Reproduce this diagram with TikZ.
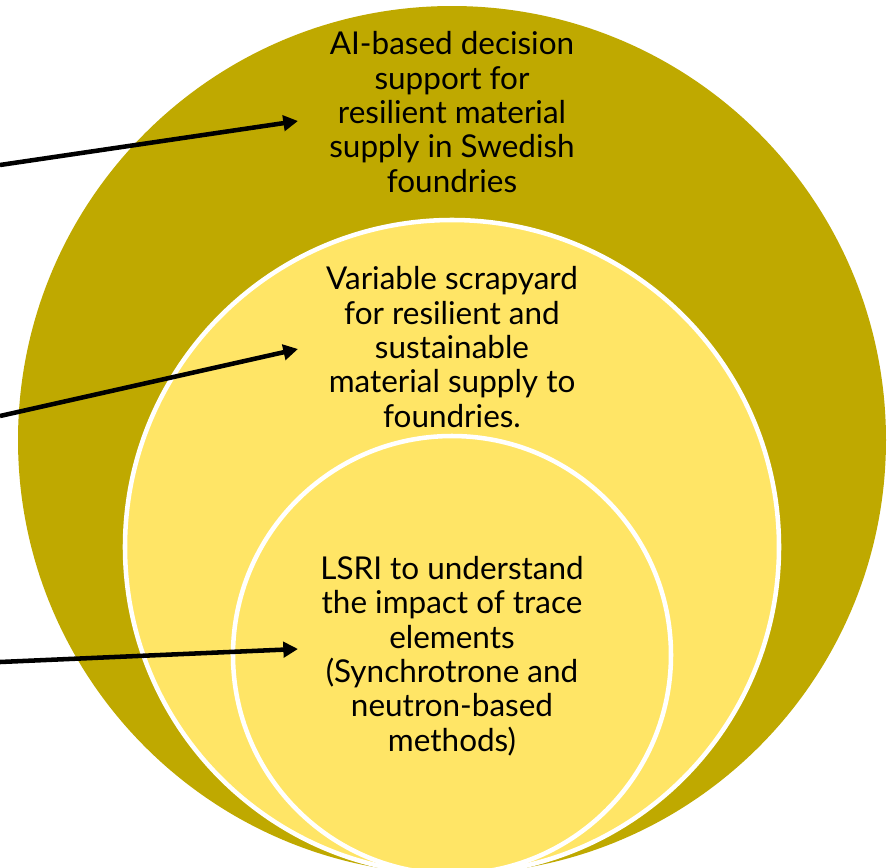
\documentclass[tikz,border=0pt]{standalone}
\usepackage{fontspec}
\setmainfont{Lato}
\usetikzlibrary{arrows.meta}
\definecolor{olive}{RGB}{191,169,0}
\definecolor{paleyellow}{RGB}{255,229,102}
\tikzset{
  ring/.style={draw=white, line width=3.4pt},
  label/.style={align=center, text=black, inner sep=0pt,
    font=\fontsize{23.6}{25.8}\selectfont},
  pointer/.style={line width=3.4pt, -{Triangle[length=11pt,width=11.5pt]}}
}
\begin{document}
\begin{tikzpicture}[x=0.75pt, y=-0.75pt]
  \useasboundingbox (0,0) rectangle (894,868);
  \clip (0,0) rectangle (894,868);
  % three nested circles, all touching at the bottom
  \fill[olive] (452,440) circle[radius=325.5pt];
  \filldraw[fill=paleyellow, ring] (452,547) circle[radius=245.25pt];
  \filldraw[fill=paleyellow, ring] (452,655) circle[radius=164.25pt];

  % labels
  \node[label] (outer) at (452,112) {AI-based decision\\support for\\resilient material\\supply in Swedish\\foundries};
  \node[label] (middle) at (452,347) {Variable scrapyard\\for resilient and\\sustainable\\material supply to\\foundries.};
  \node[label] (inner) at (452,656) {LSRI to understand\\the impact of trace\\elements\\(Synchrotrone and\\neutron-based\\methods)};

  % pointers from the left edge
  \coordinate (s1) at (0,165);
  \coordinate (t1) at (298,121);
  \coordinate (s2) at (0,416);
  \coordinate (t2) at (298,349);
  \coordinate (s3) at (0,662);
  \coordinate (t3) at (298,649);
  \draw[pointer] (s1) -- (t1);
  \draw[pointer] (s2) -- (t2);
  \draw[pointer] (s3) -- (t3);
\end{tikzpicture}
\end{document}
